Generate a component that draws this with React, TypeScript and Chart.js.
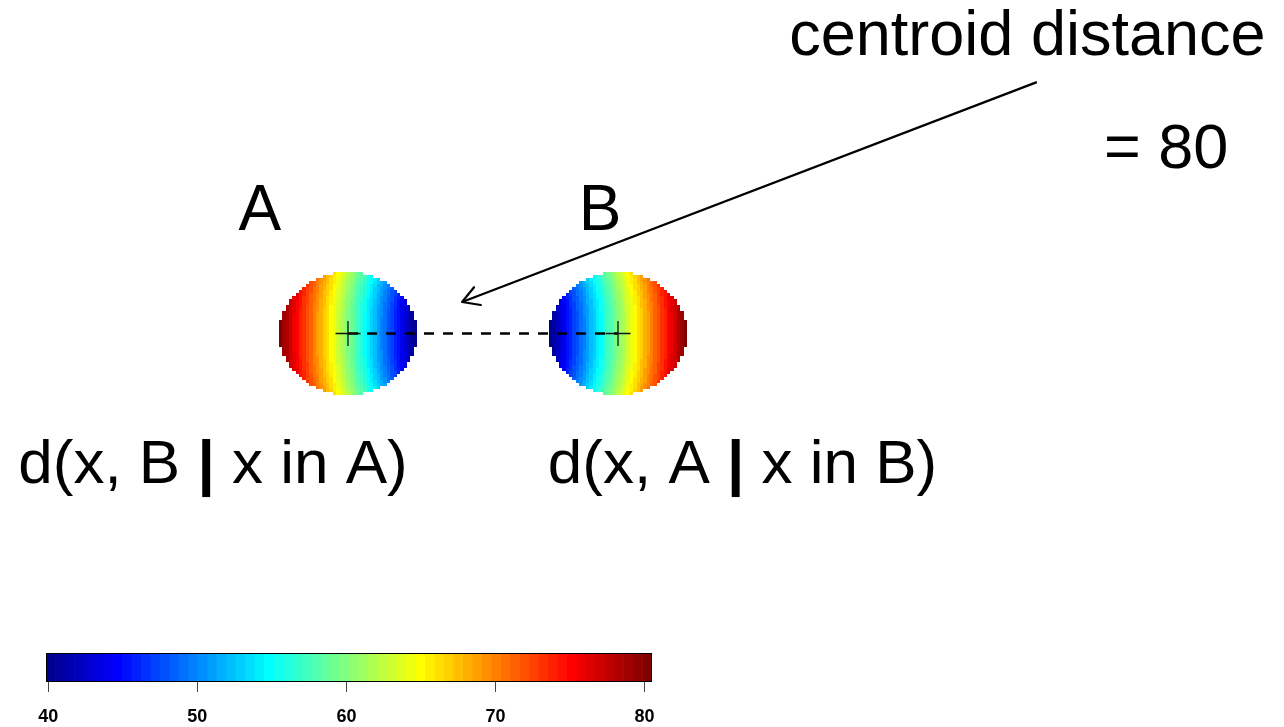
import React, { useEffect, useRef } from "react";
import { Chart, registerables } from "chart.js";

Chart.register(...registerables);

// ---------------- data ----------------
const discNames = ["A", "B"];
const centroidX = [0, 80];
const centroidY = [0, 0];
// half-width (in grid cells) of each disc row, from the centre row outward
const rowHalfWidths = [20, 20, 20, 20, 20, 19, 19, 19, 18, 18, 17, 17, 16, 15, 14, 13, 12, 11, 9, 7, 4];
const centroidDistanceLabel = "= 80";
const titleLabel = "centroid distance";
const distanceLabelsLeft = ["d(x, B", "d(x, A"];
const distanceLabelsRight = ["x in A)", "x in B)"];
const legendRange = [39.85, 80.5];
const legendTicks = [40, 50, 60, 70, 80];
const arrowFrom = [204.1, 83.8];
const arrowTo = [33.8, 10.5];
const palette = [
  "#00008F", "#00009F", "#0000AF", "#0000BF", "#0000CF", "#0000DF", "#0000EF", "#0000FF",
  "#0010FF", "#0020FF", "#0030FF", "#0040FF", "#0050FF", "#0060FF", "#0070FF", "#0080FF",
  "#008FFF", "#009FFF", "#00AFFF", "#00BFFF", "#00CFFF", "#00DFFF", "#00EFFF", "#00FFFF",
  "#10FFEF", "#20FFDF", "#30FFCF", "#40FFBF", "#50FFAF", "#60FF9F", "#70FF8F", "#80FF80",
  "#8FFF70", "#9FFF60", "#AFFF50", "#BFFF40", "#CFFF30", "#DFFF20", "#EFFF10", "#FFFF00",
  "#FFEF00", "#FFDF00", "#FFCF00", "#FFBF00", "#FFAF00", "#FF9F00", "#FF8F00", "#FF8000",
  "#FF7000", "#FF6000", "#FF5000", "#FF4000", "#FF3000", "#FF2000", "#FF1000", "#FF0000",
  "#EF0000", "#DF0000", "#CF0000", "#BF0000", "#AF0000", "#9F0000", "#8F0000", "#800000",
];

// ---------------- layout (not data) ----------------
const W = 1284;
const H = 727;
const VIEW = { xMin: -103.11, xMax: 277.33, yMin: -131.17, yMax: 111.17 };
const FONT = "'Liberation Sans', Arial, Helvetica, sans-serif";
const TEXT_ANCHORS = {
  names: [
    [-26.1, 34.5],
    [74.7, 34.5],
  ],
  title: [201.3, 92.8],
  distance: [242.4, 55.2],
  dLabels: [
    [-40.0, -49.8],
    [116.9, -49.8],
  ],
};

// build disc cells from the outline and the centroids
function buildDisc(i: number) {
  const cells: { x: number; y: number }[] = [];
  const n = rowHalfWidths.length - 1;
  for (let dy = -n; dy <= n; dy++) {
    const hw = rowHalfWidths[Math.abs(dy)];
    for (let dx = -hw; dx <= hw; dx++) cells.push({ x: centroidX[i] + dx, y: centroidY[i] + dy });
  }
  return cells;
}

function buildCells() {
  const discs = [buildDisc(0), buildDisc(1)];
  const out: { x: number; y: number; v: number }[] = [];
  for (let i = 0; i < 2; i++) {
    const other = discs[1 - i];
    for (const c of discs[i]) {
      let best = Infinity;
      for (const o of other) {
        const d = (c.x - o.x) * (c.x - o.x) + (c.y - o.y) * (c.y - o.y);
        if (d < best) best = d;
      }
      out.push({ x: c.x, y: c.y, v: Math.sqrt(best) });
    }
  }
  return out;
}

function colorFor(v: number) {
  const [lo, hi] = legendRange;
  let k = Math.floor(((v - lo) / (hi - lo)) * palette.length);
  k = Math.max(0, Math.min(palette.length - 1, k));
  return palette[k];
}

const heatPlugin = {
  id: "heatCells",
  beforeDatasetsDraw(chart: any) {
    const { ctx } = chart;
    const xs = chart.scales.x;
    const ys = chart.scales.y;
    const ds = chart.data.datasets.find((d: any) => d.label === "cells");
    if (!ds) return;
    ctx.save();
    for (const c of ds.data) {
      const l = Math.round(xs.getPixelForValue(c.x - 0.5));
      const r = Math.round(xs.getPixelForValue(c.x + 0.5));
      const t = Math.round(ys.getPixelForValue(c.y + 0.5));
      const b = Math.round(ys.getPixelForValue(c.y - 0.5));
      ctx.fillStyle = colorFor(c.v);
      ctx.fillRect(l, t, r - l, b - t);
    }
    ctx.restore();
  },
};

const arrowHeadPlugin = {
  id: "arrowHead",
  afterDatasetsDraw(chart: any) {
    const idx = chart.data.datasets.findIndex((d: any) => d.label === "arrow");
    if (idx < 0) return;
    const meta = chart.getDatasetMeta(idx);
    const p0 = meta.data[0];
    const p1 = meta.data[1];
    if (!p0 || !p1) return;
    const ang = Math.atan2(p1.y - p0.y, p1.x - p0.x);
    const len = 19;
    const spread = Math.PI / 6;
    const { ctx } = chart;
    ctx.save();
    ctx.strokeStyle = "#000";
    ctx.lineWidth = 2.2;
    ctx.lineCap = "round";
    ctx.lineJoin = "round";
    ctx.beginPath();
    ctx.moveTo(p1.x - len * Math.cos(ang - spread), p1.y - len * Math.sin(ang - spread));
    ctx.lineTo(p1.x, p1.y);
    ctx.lineTo(p1.x - len * Math.cos(ang + spread), p1.y - len * Math.sin(ang + spread));
    ctx.stroke();
    ctx.restore();
  },
};

const textPlugin = {
  id: "texts",
  afterDraw(chart: any) {
    const { ctx } = chart;
    const xs = chart.scales.x;
    const ys = chart.scales.y;
    const px = (p: number[]) => [xs.getPixelForValue(p[0]), ys.getPixelForValue(p[1])];
    const normal = `62px ${FONT}`;
    const bold = `bold 62px ${FONT}`;
    ctx.save();
    ctx.fillStyle = "#000";
    ctx.textBaseline = "alphabetic";
    ctx.textAlign = "center";
    ctx.font = `64px ${FONT}`;
    discNames.forEach((n, i) => {
      const [x, y] = px(TEXT_ANCHORS.names[i]);
      ctx.fillText(n, x, y);
    });
    ctx.font = `63px ${FONT}`;
    {
      const [x, y] = px(TEXT_ANCHORS.title);
      ctx.fillText(titleLabel, x, y);
    }
    {
      const [x, y] = px(TEXT_ANCHORS.distance);
      ctx.fillText(centroidDistanceLabel, x, y);
    }
    ctx.textAlign = "left";
    for (let i = 0; i < 2; i++) {
      const [cx, y] = px(TEXT_ANCHORS.dLabels[i]);
      const left = distanceLabelsLeft[i] + " ";
      const right = " " + distanceLabelsRight[i];
      ctx.font = normal;
      const wl = ctx.measureText(left).width;
      const wr = ctx.measureText(right).width;
      ctx.font = bold;
      const wp = ctx.measureText("|").width;
      let x = cx - (wl + wp + wr) / 2;
      ctx.font = normal;
      ctx.fillText(left, x, y);
      x += wl;
      ctx.font = bold;
      ctx.fillText("|", x, y);
      x += wp;
      ctx.font = normal;
      ctx.fillText(right, x, y);
    }
    ctx.restore();
  },
};

const outlinePlugin = {
  id: "cbOutline",
  afterDatasetsDraw(chart: any) {
    const { ctx, chartArea: a } = chart;
    ctx.save();
    ctx.strokeStyle = "#000";
    ctx.lineWidth = 1;
    ctx.strokeRect(Math.round(a.left) + 0.5, Math.round(a.top) + 0.5, Math.round(a.right - a.left) - 1, Math.round(a.bottom - a.top));
    ctx.restore();
  },
};

const CB_AXIS_HEIGHT = 61;

export default function App() {
  const mainRef = useRef<HTMLCanvasElement | null>(null);
  const barRef = useRef<HTMLCanvasElement | null>(null);

  useEffect(() => {
    if (!mainRef.current || !barRef.current) return;
    const cells = buildCells();
    const centroids = centroidX.map((x, i) => ({ x, y: centroidY[i] }));

    const main = new Chart(mainRef.current, {
      type: "scatter",
      data: {
        datasets: [
          {
            label: "centroids",
            data: centroids,
            pointStyle: "cross",
            pointRadius: 12.5,
            borderColor: "#111",
            borderWidth: 1.3,
            backgroundColor: "#111",
          } as any,
          {
            label: "link",
            type: "line",
            data: centroids,
            borderColor: "#000",
            borderWidth: 2.5,
            borderDash: [10, 9],
            pointRadius: 0,
            fill: false,
          } as any,
          {
            label: "arrow",
            type: "line",
            data: [
              { x: arrowFrom[0], y: arrowFrom[1] },
              { x: arrowTo[0], y: arrowTo[1] },
            ],
            borderColor: "#000",
            borderWidth: 2.2,
            pointRadius: 0,
            fill: false,
          } as any,
          {
            label: "cells",
            data: cells,
            pointRadius: 0,
          } as any,
        ],
      },
      options: {
        animation: false,
        responsive: false,
        events: [],
        layout: { padding: 0, autoPadding: false },
        plugins: { legend: { display: false }, tooltip: { enabled: false } },
        scales: {
          x: { type: "linear", min: VIEW.xMin, max: VIEW.xMax, display: false },
          y: { type: "linear", min: VIEW.yMin, max: VIEW.yMax, display: false },
        },
      } as any,
      plugins: [heatPlugin, arrowHeadPlugin, textPlugin],
    });

    const [lo, hi] = legendRange;
    const step = (hi - lo) / palette.length;
    const bar = new Chart(barRef.current, {
      type: "bar",
      data: {
        labels: [""],
        datasets: palette.map((col, i) => ({
          data: [[lo + i * step, lo + (i + 1) * step]],
          backgroundColor: col,
          borderWidth: 0,
          grouped: false,
          barPercentage: 1,
          categoryPercentage: 1,
        })) as any,
      },
      options: {
        indexAxis: "y",
        animation: false,
        responsive: false,
        events: [],
        layout: { padding: { left: 46, right: 48, top: 13, bottom: 8 }, autoPadding: false },
        plugins: { legend: { display: false }, tooltip: { enabled: false } },
        scales: {
          x: {
            type: "linear",
            min: lo,
            max: hi,
            afterBuildTicks: (s: any) => {
              s.ticks = legendTicks.map((v) => ({ value: v }));
            },
            afterFit: (s: any) => {
              s.height = CB_AXIS_HEIGHT;
            },
            grid: { drawOnChartArea: false, drawTicks: true, tickLength: 11, color: "#444", lineWidth: 1 },
            border: { display: false },
            ticks: {
              font: { family: FONT, size: 18, weight: "bold" },
              color: "#000",
              padding: 14,
              maxRotation: 0,
              autoSkip: false,
            },
          },
          y: { display: false },
        },
      } as any,
      plugins: [outlinePlugin],
    });

    return () => {
      main.destroy();
      bar.destroy();
    };
  }, []);

  return (
    <div style={{ position: "fixed", left: 0, top: 0, width: W, height: H, overflow: "hidden", background: "#fff" }}>
      <canvas ref={mainRef} width={W} height={H} style={{ position: "absolute", left: 0, top: 0, display: "block" }} />
      <canvas ref={barRef} width={700} height={110} style={{ position: "absolute", left: 0, top: 640, display: "block" }} />
    </div>
  );
}
